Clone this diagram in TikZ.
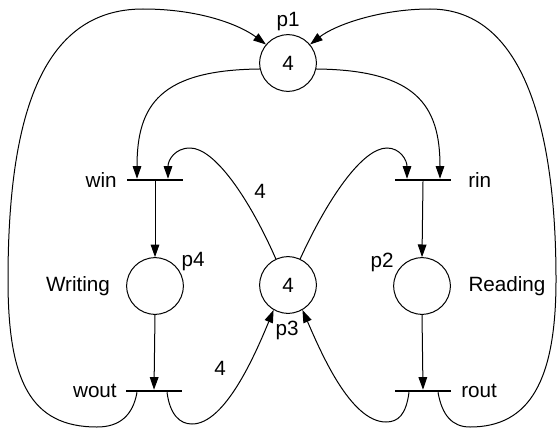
\documentclass[tikz,border=0pt]{standalone}
\usepackage{fontspec}
\setmainfont{Liberation Sans}
\usetikzlibrary{arrows.meta,calc}
\begin{document}
\begin{tikzpicture}[x=0.75pt,y=-0.75pt,
  every node/.style={font=\fontsize{15.5}{18}\selectfont},
  place/.style={draw,circle,line width=0.75pt,minimum size=42.5pt,inner sep=0pt},
  trans/.style={fill=black,rectangle,minimum width=41.5pt,minimum height=1.5pt,inner sep=0pt},
  lbl/.style={inner sep=0pt},
  arc/.style={line width=0.75pt,-{Triangle[length=9.5pt,width=6.5pt]}},
  plain/.style={line width=0.75pt}]
\useasboundingbox (0,0) rectangle (559,428);
% places
\node[place] (p1) at (288,63) {4};
\node[place] (p4) at (155,286) {};
\node[place] (p3) at (288,285) {4};
\node[place] (p2) at (422,286) {};
% transitions
\node[trans] (win) at (155,180) {};
\node[trans] (rin) at (423,180) {};
\node[trans] (wout) at (154,391) {};
\node[trans] (rout) at (423,391) {};
% labels
\node[lbl] (lp1) at (288,22) {p1};
\node[lbl] (lp4) at (193,262) {p4};
\node[lbl] (lp2) at (382,262) {p2};
\node[lbl] (lp3) at (287,330) {p3};
\node[lbl] (lwriting) at (78,286) {Writing};
\node[lbl] (lreading) at (507,286) {Reading};
\node[lbl,anchor=east] (lwin) at (117,180) {win};
\node[lbl,anchor=west] (lrin) at (468,180) {rin};
\node[lbl,anchor=east] (lwout) at (117,391) {wout};
\node[lbl,anchor=west] (lrout) at (461,391) {rout};
\node[lbl] (w1) at (260,191) {4};
\node[lbl] (w2) at (220,368) {4};
% coordinates on bars
\coordinate (winL) at ($(win.north)+(-18,0)$);
\coordinate (winR) at ($(win.north)+(13,0)$);
\coordinate (rinL) at ($(rin.north)+(-16,0)$);
\coordinate (rinR) at ($(rin.north)+(17,0)$);
\coordinate (woutL) at ($(wout.south)+(-17,0)$);
\coordinate (woutR) at ($(wout.south)+(13,0)$);
\coordinate (routL) at ($(rout.south)+(-14,0)$);
\coordinate (routR) at ($(rout.south)+(15,0)$);
% straight arcs
\draw[arc] (win.south) -- (p4.north);
\draw[arc] (p4.south) -- (wout.north);
\draw[arc] (rin.south) -- (p2.north);
\draw[arc] (p2.south) -- (rout.north);
% p1 -> win, p1 -> rin
\draw[arc] (p1.192) .. controls (160,70) and (137,105) .. (winL);
\draw[arc] (p1.-12) .. controls (416,70) and (440,105) .. (rinR);
% p3 -> win, p3 -> rin
\draw[arc] (p3.115) .. controls (250,200) and (215,148) .. (190,148) .. controls (175,148) and (168,160) .. (winR);
\draw[arc] (p3.65) .. controls (327,200) and (362,148) .. (387,148) .. controls (400,148) and (407,160) .. (rinL);
% wout -> p3, rout -> p3
\draw[arc] (woutR) .. controls (170,415) and (180,424) .. (192,424) .. controls (225,424) and (255,355) .. (p3.240);
\draw[arc] (routL) .. controls (406,415) and (398,422) .. (386,422) .. controls (350,422) and (320,350) .. (p3.300);
% big loops
\draw[arc] (woutL) .. controls (133,415) and (120,427) .. (97,427)
  .. controls (30,427) and (8,380) .. (8,280)
  .. controls (8,120) and (40,9) .. (143,9)
  .. controls (200,9) and (240,25) .. (p1.140);
\draw[arc] (routR) .. controls (442,415) and (452,427) .. (470,427)
  .. controls (530,427) and (556,380) .. (556,280)
  .. controls (556,120) and (520,9) .. (430,9)
  .. controls (380,9) and (335,25) .. (p1.40);
\end{tikzpicture}
\end{document}
